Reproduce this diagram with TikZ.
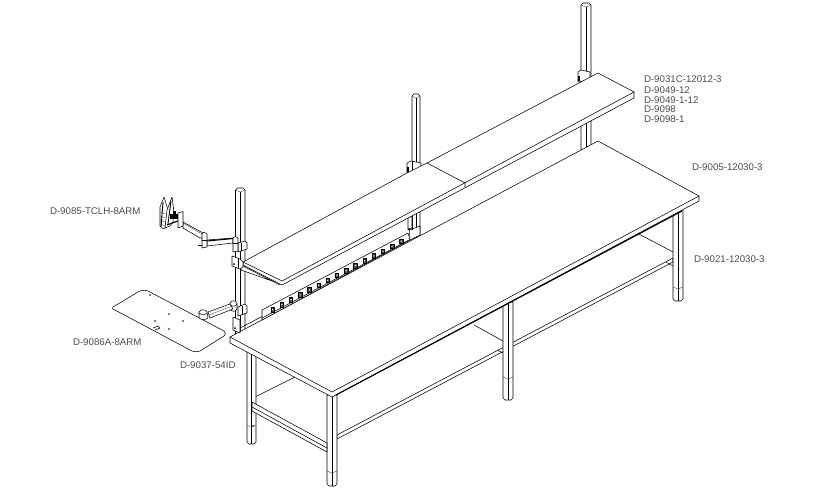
\documentclass[tikz,border=0pt]{standalone}
\usepackage{fontspec}
\setmainfont{Liberation Sans}
\definecolor{lbl}{gray}{0.3}
\tikzset{
  part/.style={draw=black,line width=0.55pt,fill=white,line join=round},
  ln/.style={draw=black,line width=0.55pt},
  thin ln/.style={draw=black!70,line width=0.4pt},
  heavy/.style={draw=black,line width=1.1pt},
  tag/.style={text=lbl,font=\fontsize{9.7}{10}\selectfont,anchor=west,inner sep=0pt,outer sep=0pt},
}
\newcommand{\vpost}[4]{% x-left, x-right, y-top, y-bottom
  \path[part] (#1,#3+2) -- (#1+2,#3) -- ({#2-2},#3) -- (#2,#3+2) -- (#2,#4) -- (#1,#4) -- cycle;
  \draw[ln] ({(#1+#2)/2},#3+4) -- ({(#1+#2)/2},#4);
  \draw[thin ln] (#1,#3+2) -- ({(#1+#2)/2},#3+4) -- (#2,#3+2);
}
\newcommand{\tableleg}[4]{% x-left,x-right,y-top,y-bottom
  \path[part] (#1,#3) -- (#1,#4) -- (#1+2,#4+2) -- ({#2-2},#4+2) -- (#2,#4) -- (#2,#3) -- cycle;
  \draw[ln] ({(#1+#2)/2},#3) -- ({(#1+#2)/2},#4+2);
}
\begin{document}
\begin{tikzpicture}[x=1pt,y=-1pt]
\useasboundingbox (0,0) rectangle (817,490);
\fill[white] (0,0) rectangle (817,490);

% lower shelf
\draw[ln] (253,398) -- (295,377);
\draw[ln] (474,325) -- (503,341);
\draw[ln] (637,233) -- (673,252);
\path[part] (337,435) -- (673,258) -- (673,262) -- (337,439) -- cycle;
\draw[ln] (666,262) -- (673,266);
\draw[ln] (497,350) -- (503,353);

% legs
\tableleg{247}{256}{343}{442}
\draw[thin ln] (247,425) -- (251,427) -- (256,425);
\fill (253,426) circle (0.8);
\tableleg{327}{337}{395}{484}
\draw[thin ln] (327,471) -- (332,473) -- (337,471);
\tableleg{503}{513}{302}{398}
\draw[thin ln] (503,377) -- (508,379) -- (513,377);
\tableleg{673}{683}{208}{299}
\draw[thin ln] (673,287) -- (678,289) -- (683,287);
% front rail of the lower shelf, in front of the left leg
\path[part] (252,402) -- (327,443) -- (327,452) -- (252,411) -- cycle;
\draw[ln] (252,407) -- (327,448);

% posts
\vpost{581}{591}{3}{150}
\vpost{412}{420}{94}{238}
\vpost{235.5}{245}{188}{336}

% clamps on the posts
\path[part] (578,72) -- (581,70) -- (590,72) -- (590,80) -- (578,82) -- cycle;
\draw[heavy] (579,76) -- (579,81);
\path[part] (407,163) -- (411,161) -- (421,163) -- (421,170) -- (407,174) -- cycle;
\draw[heavy] (408,167) -- (408,172);
\draw[ln] (412,161) -- (412,172);

% table top
\path[part] (230,337) -- (598,141) -- (699,196) -- (699,201) -- (332,397) -- (230,343) -- cycle;
\draw[ln] (230,337) -- (332,392) -- (699,196);
\draw[heavy] (336,395) -- (682,211);

% power strip
\path[part] (262,310) -- (408,233) -- (410,240) -- (262,320) -- cycle;
\draw[ln] (240,328) -- (262,316.5);
\draw[ln] (262,318) -- (409,240);
\path[part] (409.5,230) -- (420,226) -- (420,235) -- (410,240) -- cycle;
\draw[ln] (412,215) -- (412,230);
\path[part] (408,218) -- (412,216) -- (412,228) -- (408,230) -- cycle;
\fill (409,229) circle (1);
\foreach \i in {0,...,14}{
  \pgfmathsetmacro{\ox}{272.5+9.2*\i}
  \pgfmathsetmacro{\oy}{309.5-4.87*\i}
  \filldraw[draw=black,fill=black!70,line width=0.5pt] (\ox-1.7,\oy-2.3) rectangle (\ox+1.7,\oy+2.3);
  \fill[white] (\ox,\oy) circle (0.7);
}

% upper shelf
\path[part] (243,262) -- (407,173) -- (427,163) -- (598,73) -- (634,92) -- (634,98) -- (282,285) -- (243,265) -- cycle;
\draw[ln] (243,262) -- (282,281) -- (634,92);
\draw[ln] (427,163) -- (465,183) -- (465,187);
% brackets of shelf
\path[part] (241,265) -- (280,285) -- (272,281) -- (241,270) -- cycle;
\path[part] (232,256) -- (240,259) -- (243,262) -- (243,267) -- (240,269) -- (232,266) -- cycle;
\fill (234,264) circle (1);
\draw[ln] (238,258) -- (238,268);

% lower bracket
\path[part] (233,317) -- (240,320) -- (240,333) -- (233,330) -- cycle;
\fill (235,328) circle (1);
\path[part] (238,307) -- (245,304) -- (247,306) -- (247,313) -- (238,316) -- cycle;
\draw[ln] (242,306) -- (242,315);
\path[part] (230,303) .. controls (231,300) and (236,300) .. (237,303) -- (237,309) .. controls (236,312) and (231,312) .. (230,309) -- cycle;
\draw[ln] (230,304) .. controls (231,307) and (236,307) .. (237,304);

% upper clamp and arm
\path[part] (238,243) -- (245,241) -- (247,243) -- (247,249) -- (238,252) -- cycle;
\draw[ln] (241,243) -- (241,251);
\path[part] (207,240) -- (233,238) -- (233,243) -- (207,246) -- cycle;
\draw[heavy] (207,241) -- (233,238.5);
\path[part] (233,238) .. controls (234,236) and (237,236) .. (238,238) -- (238,251) -- (233,252) -- cycle;
\draw[ln] (233,243) -- (238,243);
\path[part] (183,222) -- (203,233) -- (205,238) -- (200,238) -- (183,228) -- cycle;
\draw[thin ln] (183,223) -- (202,234);
\path[part] (202,234) -- (204,232) -- (207,234) -- (207,247) -- (202,248) -- cycle;
\draw[ln] (202,240) -- (207,240);
\draw[heavy] (198,245.5) -- (202,245.5);

% monitors
\path[part] (164,197) -- (160,207) -- (160,226) -- (163,229) -- (165,228) -- (168,210) -- cycle;
\path[part] (172,197) -- (167,210) -- (165,228) -- (170,226) -- (173,222) -- (173.5,208) -- cycle;
\foreach \yy in {212,216,...,224}{
  \draw[thin ln] (160.5,\yy) -- (165,\yy+2);
}
\draw[line width=0.9pt] (163,202) -- (161,227);
\draw[line width=0.9pt] (171,201) -- (168,224);
\fill (170,214) rectangle (178,219);
\fill (173,211) rectangle (176,214);
\draw[heavy] (167,225) -- (179,220.5);
\path[part] (178,213) -- (183,211.5) -- (183,226) -- (178,228) -- cycle;

% lower arm and tray
\path[part] (208,312) -- (230,304) -- (233,309) -- (210,318) -- cycle;
\draw[thin ln] (209,315) -- (231,306.5);
\path[part] (113,307) -- (138,292) .. controls (141,290) and (145,290) .. (148,291)
  -- (224,331) .. controls (226,333) and (226,335) .. (224,336)
  -- (200,351) .. controls (197,352) and (193,352) .. (190,350)
  -- (115,310) .. controls (112,309) and (112,308) .. (113,307) -- cycle;
\path[part] (199,318) -- (199,312) .. controls (201,309) and (205,309) .. (207,312) -- (208,318) .. controls (206,320) and (201,320) .. (199,318) -- cycle;
\draw[ln] (199,313) .. controls (201,315) and (205,315) .. (207,313);
\foreach \hx/\hy in {150/295,169/314,155/321,183/321,169/329}{
  \fill (\hx,\hy) circle (0.9);
}
\draw[ln] (153,328) -- (158,326) -- (160,328) -- (155,330);

% labels
\node[tag] (t1) at (50,211) {D-9085-TCLH-8ARM};
\node[tag] (t2) at (73,342) {D-9086A-8ARM};
\node[tag] (t3) at (180,365) {D-9037-54ID};
\node[tag] (t4) at (644,79.5) {D-9031C-12012-3};
\node[tag] (t5) at (644,90) {D-9049-12};
\node[tag] (t6) at (644,100) {D-9049-1-12};
\node[tag] (t7) at (644,109.5) {D-9098};
\node[tag] (t8) at (644,119.5) {D-9098-1};
\node[tag] (t9) at (692,167.5) {D-9005-12030-3};
\node[tag] (t10) at (694,259.5) {D-9021-12030-3};
\end{tikzpicture}
\end{document}
